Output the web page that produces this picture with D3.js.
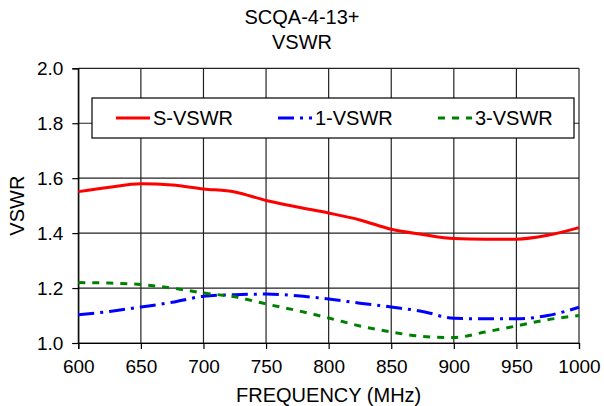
<!DOCTYPE html>
<html>
<head>
<meta charset="utf-8">
<script src="https://cdn.jsdelivr.net/npm/d3@7"></script>
<style>
    body { margin: 0; background: #fff; }
    text { font-family: "Liberation Sans", Arial, sans-serif; fill: #000; }
</style>
</head>
<body>
<svg width="604" height="406"></svg>
<script>
// Chart data
var frequencies = [600, 625, 650, 675, 700, 725, 750, 775, 800, 825, 850, 875, 900, 925, 950, 975, 1000];
var sVswr = [1.551, 1.567, 1.580, 1.575, 1.561, 1.550, 1.519, 1.495, 1.473, 1.448, 1.414, 1.395, 1.380, 1.378, 1.378, 1.392, 1.420];
var vswr1 = [1.103, 1.115, 1.131, 1.148, 1.170, 1.176, 1.178, 1.172, 1.160, 1.145, 1.131, 1.115, 1.090, 1.088, 1.088, 1.100, 1.130];
var vswr3 = [1.220, 1.218, 1.213, 1.200, 1.182, 1.168, 1.142, 1.118, 1.091, 1.062, 1.040, 1.024, 1.020, 1.040, 1.062, 1.085, 1.100];
var xTicks = [600, 650, 700, 750, 800, 850, 900, 950, 1000];
var yTicks = [1.0, 1.2, 1.4, 1.6, 1.8, 2.0];
var seriesNames = ['S-VSWR', '1-VSWR', '3-VSWR'];

var series = [
    {name: seriesNames[0], values: sVswr, color: '#ff0000', dash: null},
    {name: seriesNames[1], values: vswr1, color: '#0000ff', dash: '16,6,3,6'},
    {name: seriesNames[2], values: vswr3, color: '#008000', dash: '7,7'}
];

var svg = d3.select('svg');
var svgWidth = +svg.attr('width');
var svgHeight = +svg.attr('height');

// plot area edges
var padding = {t: 68.3, r: 25, b: 63, l: 78.3};
var chartWidth = svgWidth - padding.l - padding.r;
var chartHeight = svgHeight - padding.t - padding.b;

var x = d3.scaleLinear().domain([600, 1000]).range([0, chartWidth]);
var y = d3.scaleLinear().domain([1.0, 2.0]).range([chartHeight, 0]);

var chartG = svg.append('g')
    .attr('transform', 'translate(' + [padding.l, padding.t] + ')');

// grid lines
chartG.selectAll('.vgrid').data(xTicks).enter().append('line')
    .attr('class', 'vgrid')
    .attr('x1', d => x(d)).attr('x2', d => x(d))
    .attr('y1', 0).attr('y2', chartHeight)
    .attr('stroke', '#222').attr('stroke-width', 1.2);

chartG.selectAll('.hgrid').data(yTicks).enter().append('line')
    .attr('class', 'hgrid')
    .attr('x1', 0).attr('x2', chartWidth)
    .attr('y1', d => y(d)).attr('y2', d => y(d))
    .attr('stroke', '#222').attr('stroke-width', 1.2);

// axes
var xAxis = d3.axisBottom(x).tickValues(xTicks).tickSize(6).tickPadding(11)
    .tickFormat(d3.format('d'));
var yAxis = d3.axisLeft(y).tickValues(yTicks).tickSize(6).tickPadding(9)
    .tickFormat(d3.format('.1f'));

var xAxisG = chartG.append('g')
    .attr('transform', 'translate(0,' + chartHeight + ')')
    .call(xAxis);
var yAxisG = chartG.append('g').call(yAxis);

[xAxisG, yAxisG].forEach(function(g) {
    g.select('.domain').attr('stroke', '#000').attr('stroke-width', 1.2);
    g.selectAll('.tick line').attr('stroke', '#000').attr('stroke-width', 1.2);
    g.selectAll('.tick text')
        .style('font-family', '"Liberation Sans", Arial, sans-serif')
        .style('font-size', '19px')
        .attr('fill', '#000');
});

// legend box
var legendG = chartG.append('g');
legendG.append('rect')
    .attr('x', 92 - padding.l).attr('y', 98 - padding.t)
    .attr('width', 482).attr('height', 40)
    .attr('fill', '#fff').attr('stroke', '#000').attr('stroke-width', 1.2);

var legendX = [116, 278, 438];
series.forEach(function(s, i) {
    var lx = legendX[i] - padding.l;
    var ly = 118 - padding.t;
    legendG.append('line')
        .attr('x1', lx).attr('x2', lx + 34)
        .attr('y1', ly).attr('y2', ly)
        .attr('stroke', s.color).attr('stroke-width', 3)
        .attr('stroke-dasharray', s.dash);
    legendG.append('text')
        .attr('x', lx + 37).attr('y', ly)
        .attr('dy', '0.36em')
        .style('font-size', '20px')
        .text(s.name);
});

// curves
var line = d3.line()
    .x((d, i) => x(frequencies[i]))
    .y(d => y(d))
    .curve(d3.curveMonotoneX);

chartG.selectAll('.series').data(series).enter().append('path')
    .attr('class', 'series')
    .attr('d', d => line(d.values))
    .attr('fill', 'none')
    .attr('stroke', d => d.color)
    .attr('stroke-width', 3)
    .attr('stroke-dasharray', d => d.dash);

// titles
svg.append('text')
    .attr('x', 302).attr('y', 24)
    .attr('text-anchor', 'middle')
    .style('font-size', '20px')
    .text('SCQA-4-13+');
svg.append('text')
    .attr('x', 302).attr('y', 49)
    .attr('text-anchor', 'middle')
    .style('font-size', '20px')
    .text('VSWR');

svg.append('text')
    .attr('x', padding.l + chartWidth / 2).attr('y', 402)
    .attr('text-anchor', 'middle')
    .style('font-size', '20px')
    .text('FREQUENCY (MHz)');

svg.append('text')
    .attr('transform', 'translate(24,' + (padding.t + chartHeight / 2) + ') rotate(-90)')
    .attr('text-anchor', 'middle')
    .style('font-size', '20px')
    .text('VSWR');
</script>
</body>
</html>
